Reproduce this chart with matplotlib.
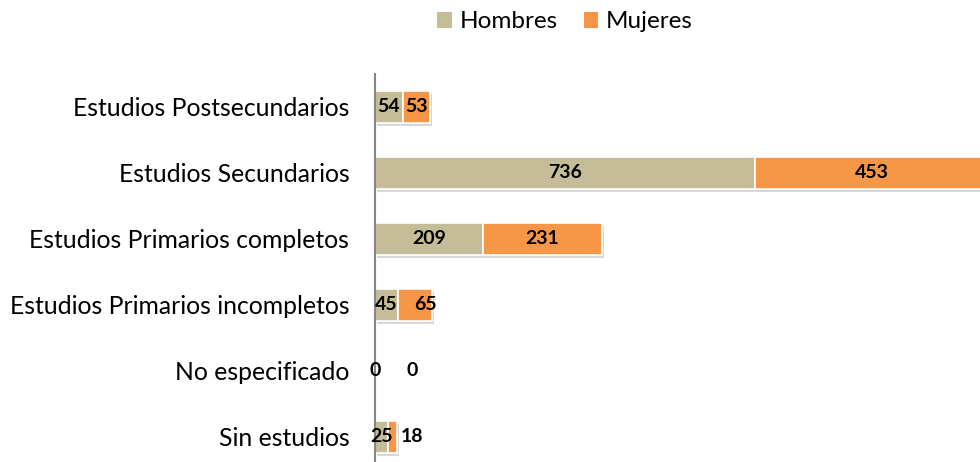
import matplotlib.pyplot as plt
import matplotlib.patheffects as pe
from matplotlib.patches import Patch

# Nivel de estudios por sexo
categorias = ['Estudios Postsecundarios', 'Estudios Secundarios', 'Estudios Primarios completos',
              'Estudios Primarios incompletos', 'No especificado', 'Sin estudios']
hombres = [54, 736, 209, 45, 0, 25]
mujeres = [53, 453, 231, 65, 0, 18]

color_h = '#C4BD97'
color_m = '#F79646'

plt.rcParams['font.family'] = ['Lato', 'DejaVu Sans']

fig = plt.figure(figsize=(9.8, 4.62), dpi=100)
ax = fig.add_axes([375 / 980, (462 - 470) / 462, (980 - 375) / 980, 396 / 462])

y = list(range(len(categorias)))
sombra = [pe.SimplePatchShadow(offset=(1.5, -2), shadow_rgbFace='#808080', alpha=0.3), pe.Normal()]
ax.barh(y, hombres, height=0.48, color=color_h, edgecolor='white', linewidth=1.2,
        path_effects=sombra)
ax.barh(y, mujeres, left=hombres, height=0.48, color=color_m, edgecolor='white', linewidth=1.2,
        path_effects=sombra)

ax.set_xlim(0, 1172)
ax.set_ylim(len(categorias) - 0.5, -0.5)
ax.set_yticks(y)
ax.set_yticklabels(categorias, fontsize=17.8)
ax.tick_params(axis='y', length=0, pad=18.5)
ax.set_xticks([])
for lado in ['top', 'right', 'bottom']:
    ax.spines[lado].set_visible(False)
ax.spines['left'].set_color('#868686')
ax.spines['left'].set_linewidth(1.5)

# etiquetas de valor (algunas desplazadas para no taparse)
desp_m = [0, 0, 0, 10, 37, 19]
for i in y:
    ax.annotate(str(hombres[i]), (hombres[i] / 2, i), ha='center', va='center',
                fontsize=14, fontweight='bold', color='black', textcoords='offset pixels',
                xytext=(0, 0), clip_on=False)
    ax.annotate(str(mujeres[i]), (hombres[i] + mujeres[i] / 2, i), ha='center', va='center',
                fontsize=14, fontweight='bold', color='black', textcoords='offset pixels',
                xytext=(desp_m[i], 0), clip_on=False)

leyenda = [Patch(facecolor=color_h, label='Hombres'), Patch(facecolor=color_m, label='Mujeres')]
fig.legend(handles=leyenda, loc='center', bbox_to_anchor=(565 / 980, 1 - 22 / 462),
           ncol=2, frameon=False, fontsize=17.5, handlelength=0.6, handleheight=0.6,
           handletextpad=0.33, columnspacing=1.06)

fig.savefig('out.png', dpi=100)
